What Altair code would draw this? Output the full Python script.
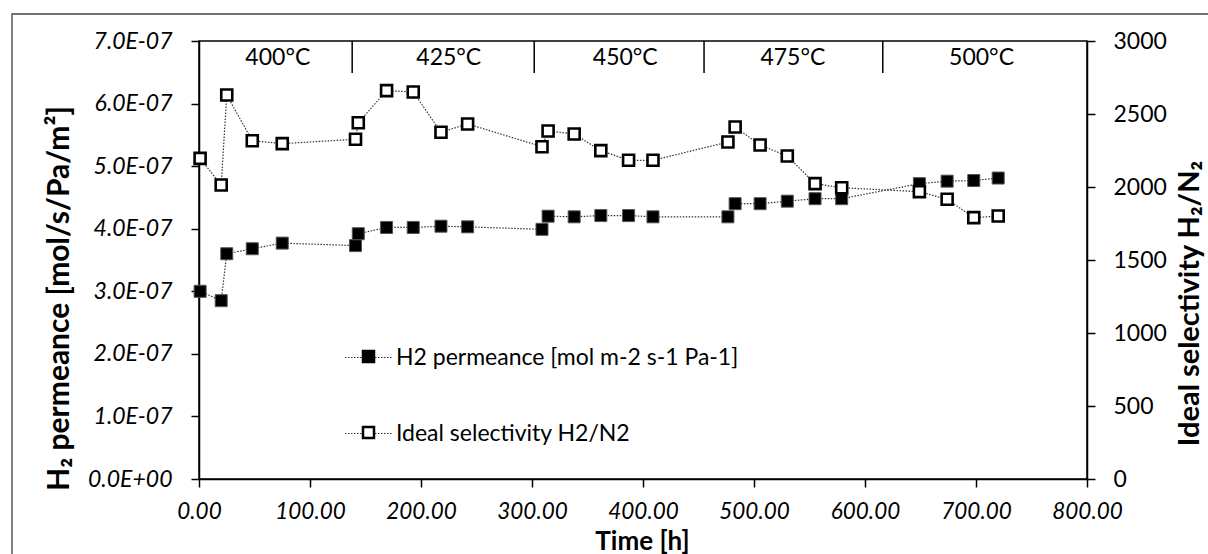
import altair as alt
import pandas as pd

# ---- data ----
time_h = [1, 20, 25, 48, 75, 141, 143.5, 169, 193, 218, 242, 309, 314.5, 338, 362,
          387, 409, 476.5, 483, 505.5, 530, 555, 579, 649, 674, 698, 720]
perm = [3.00e-7, 2.85e-7, 3.60e-7, 3.68e-7, 3.77e-7, 3.73e-7, 3.92e-7, 4.02e-7, 4.02e-7,
        4.04e-7, 4.03e-7, 3.99e-7, 4.20e-7, 4.19e-7, 4.21e-7, 4.21e-7, 4.19e-7, 4.19e-7,
        4.40e-7, 4.40e-7, 4.44e-7, 4.48e-7, 4.48e-7, 4.72e-7, 4.76e-7, 4.77e-7, 4.81e-7]
sel = [2196, 2014, 2630, 2317, 2297, 2327, 2440, 2660, 2651, 2375, 2432, 2276, 2384, 2363,
       2249, 2183, 2183, 2308, 2411, 2288, 2212, 2023, 1995, 1968, 1916, 1790, 1801]

temp_labels = ["400°C", "425°C", "450°C", "475°C", "500°C"]
temp_label_time = [71, 225, 384, 535, 705]
temp_boundaries = [138, 302, 455, 616]

x_ticks = [0, 100, 200, 300, 400, 500, 600, 700, 800]
perm_ticks = [0, 1e-7, 2e-7, 3e-7, 4e-7, 5e-7, 6e-7, 7e-7]
sel_ticks = [0, 500, 1000, 1500, 2000, 2500, 3000]

PERM = "H2 permeance [mol m-2 s-1 Pa-1]"
SEL = "Ideal selectivity H2/N2"

df_perm = pd.DataFrame({"t": time_h, "v": perm, "series": PERM, "marker": "filled"})
df_sel = pd.DataFrame({"t": time_h, "v": sel, "series": SEL, "marker": "open"})
df_bounds = pd.DataFrame({"t": temp_boundaries})
df_temps = pd.DataFrame({"t": temp_label_time, "label": temp_labels})
df_frame = pd.DataFrame({"a": [0]})

FONT = "Lato"
axis_common = dict(
    grid=False, domainColor="black", domainWidth=1.5, tickColor="black", tickWidth=1.5,
    tickSize=8, labelFont=FONT, labelColor="black", titleFont=FONT, titleColor="black",
    titleFontWeight="bold", labelOverlap=False,
)

x_enc = alt.X(
    "t:Q",
    scale=alt.Scale(domain=[0, 800], nice=False, zero=False),
    axis=alt.Axis(
        values=x_ticks, format=".2f", labelFontSize=22.5, labelFontStyle="italic",
        labelBaseline="alphabetic", labelPadding=31, labelFlush=False, title="Time [h]",
        titleFontSize=26, titleX=443, titleY=70, titleBaseline="alphabetic",
        titleAlign="center",
        **axis_common,
    ),
)

y_perm = alt.Y(
    "v:Q",
    scale=alt.Scale(domain=[0, 7e-7], nice=False, zero=True),
    axis=alt.Axis(
        orient="left", values=perm_ticks,
        labelExpr="datum.value == 0 ? '0.0E+00' : format(datum.value * 1e7, '.1f') + 'E-07'",
        labelFontSize=23, labelFontStyle="italic", labelPadding=19,
        title="H₂ permeance [mol/s/Pa/m²]", titleFontSize=30, titleAngle=270,
        titleX=-131, titleY=257, titleBaseline="alphabetic", titleAlign="center",
        **axis_common,
    ),
)

y_sel = alt.Y(
    "v:Q",
    scale=alt.Scale(domain=[0, 3000], nice=False, zero=True),
    axis=alt.Axis(
        orient="right", values=sel_ticks, format="d",
        labelFontSize=23, labelPadding=18,
        title="Ideal selectivity H₂/N₂", titleFontSize=29, titleAngle=270,
        titleX=111, titleY=262, titleBaseline="alphabetic", titleAlign="center",
        **axis_common,
    ),
)

# legend: dotted line part with the labels
dash_scale = alt.Scale(domain=[PERM, SEL], range=[[1.5, 1.5], [1.5, 1.5]])
dash_legend = alt.Legend(
    orient="none", legendX=145, legendY=292, title=None, symbolType="stroke",
    symbolSize=2209, symbolStrokeColor="#333333", symbolStrokeWidth=1.2,
    symbolDash=[1.5, 1.5], labelFont=FONT, labelFontSize=23, labelColor="black",
    labelOffset=3, labelLimit=0, rowPadding=39, padding=0,
)
# legend: square markers drawn on top of the dotted lines
fill_scale = alt.Scale(domain=["filled", "open"], range=["black", "white"])
fill_legend = alt.Legend(
    orient="none", legendX=158, legendY=304, title=None, symbolType="square",
    symbolSize=121, symbolStrokeColor="black", symbolStrokeWidth=2.5,
    labelExpr="''", labelFontSize=23, rowPadding=52, padding=0,
)

line_props = dict(strokeWidth=1.2, color="#333333")

perm_line = alt.Chart(df_perm).mark_line(**line_props).encode(
    x=x_enc, y=y_perm,
    strokeDash=alt.StrokeDash("series:N", scale=dash_scale, legend=dash_legend),
)
perm_pts = alt.Chart(df_perm).mark_point(
    shape="square", filled=True, size=144, stroke="#555555", strokeWidth=1, opacity=1
).encode(
    x=x_enc, y=y_perm,
    fill=alt.Fill("marker:N", scale=fill_scale, legend=fill_legend),
)
sel_line = alt.Chart(df_sel).mark_line(**line_props).encode(
    x=x_enc, y=y_sel,
    strokeDash=alt.StrokeDash("series:N", scale=dash_scale, legend=dash_legend),
)
sel_pts = alt.Chart(df_sel).mark_point(
    shape="square", filled=True, size=121, stroke="black", strokeWidth=2.6, opacity=1
).encode(
    x=x_enc, y=y_sel,
    fill=alt.Fill("marker:N", scale=fill_scale, legend=fill_legend),
)

bounds = alt.Chart(df_bounds).mark_rule(color="black", strokeWidth=1.5).encode(
    x=x_enc, y=alt.value(0), y2=alt.value(32)
)
temps = alt.Chart(df_temps).mark_text(
    font=FONT, fontSize=23, color="black", baseline="alphabetic", align="center"
).encode(x=x_enc, y=alt.value(24), text="label:N")

frame = alt.Chart(df_frame).mark_rect(
    filled=False, stroke="#444444", strokeWidth=1.3, clip=False
).encode(
    x=alt.value(-187), x2=alt.value(1030), y=alt.value(-27), y2=alt.value(540)
)

perm_layer = alt.layer(perm_line, perm_pts)
sel_layer = alt.layer(sel_line, sel_pts)

chart = (
    alt.layer(frame, bounds, temps, perm_layer, sel_layer)
    .resolve_scale(y="independent")
    .properties(
        width=888, height=438,
        autosize=alt.AutoSizeParams(type="none"),
        padding={"left": 199, "top": 41, "right": 121, "bottom": 75},
        background="white",
    )
    .configure_view(stroke="black", strokeWidth=1.5)
)

chart.save("out.html", embed_options={"renderer": "svg", "actions": False})
